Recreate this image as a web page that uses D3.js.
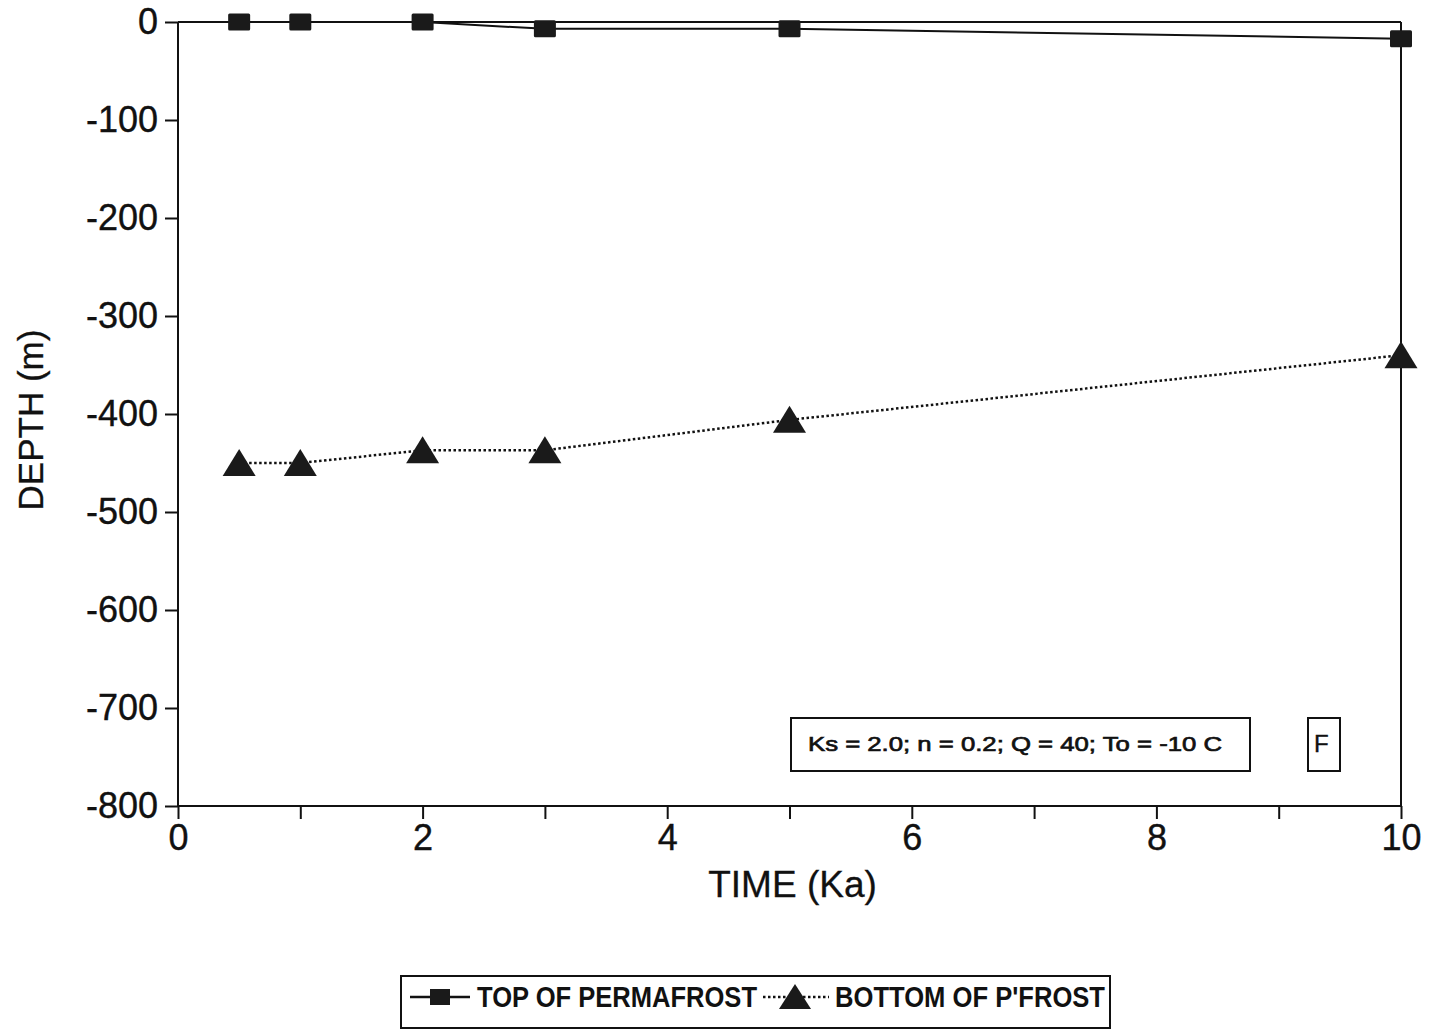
<!DOCTYPE html>
<html>
<head>
<meta charset="utf-8">
<script src="https://cdn.jsdelivr.net/npm/d3@7"></script>
<style>
  html, body { margin: 0; padding: 0; background: #fff; }
  svg { display: block; }
  text { fill: #111; }
</style>
</head>
<body>
<svg id="chart" width="1431" height="1030"></svg>
<script>
// Permafrost evolution through time
const timeKa = [0.5, 1, 2, 3, 5, 10];
const topOfPermafrost = [0, 0, 0, -7, -7, -17];
const bottomOfPermafrost = [-450, -450, -437, -437, -406, -340];
const xTicks = [0, 1, 2, 3, 4, 5, 6, 7, 8, 9, 10];
const xTickLabels = ["0", "", "2", "", "4", "", "6", "", "8", "", "10"];
const yTicks = [-800, -700, -600, -500, -400, -300, -200, -100, 0];
const seriesNames = ["TOP OF PERMAFROST", "BOTTOM OF P'FROST"];
const paramText = "Ks = 2.0; n = 0.2; Q = 40; To = -10 C";
const panelLabel = "F";

const svg = d3.select("#chart");
const font = "'Liberation Sans', Arial, Helvetica, sans-serif";
const ink = "#111";

const x = d3.scaleLinear().domain([0, 10]).range([178, 1401]);
const y = d3.scaleLinear().domain([-800, 0]).range([806, 22]);

// frame: top and right edges
svg.append("line").attr("x1", x(0)).attr("x2", x(10)).attr("y1", y(0)).attr("y2", y(0))
  .attr("stroke", ink).attr("stroke-width", 2);
svg.append("line").attr("x1", x(10)).attr("x2", x(10)).attr("y1", y(0)).attr("y2", y(-800))
  .attr("stroke", ink).attr("stroke-width", 2);

// y axis
const yAxis = svg.append("g").attr("transform", `translate(${x(0)},0)`)
  .call(d3.axisLeft(y).tickValues(yTicks).tickSize(13).tickPadding(7).tickFormat(d => String(d)));
yAxis.selectAll("path, line").attr("stroke", ink).attr("stroke-width", 2);
yAxis.select(".domain").attr("d", `M0,${y(-800)}V${y(0)}`);
yAxis.selectAll("text").attr("font-family", font).attr("font-size", 36).attr("fill", ink)
  .attr("stroke", ink).attr("stroke-width", 0.4);

// x axis
const xAxis = svg.append("g").attr("transform", `translate(0,${y(-800)})`)
  .call(d3.axisBottom(x).tickValues(xTicks).tickSize(13).tickPadding(5)
    .tickFormat((d, i) => xTickLabels[i]));
xAxis.selectAll("path, line").attr("stroke", ink).attr("stroke-width", 2);
xAxis.select(".domain").attr("d", `M${x(0)},0H${x(10)}`);
xAxis.selectAll("text").attr("font-family", font).attr("font-size", 36).attr("fill", ink)
  .attr("stroke", ink).attr("stroke-width", 0.4);

// axis titles
svg.append("text").attr("x", x(5) + 3).attr("y", 897).attr("text-anchor", "middle")
  .attr("font-family", font).attr("font-size", 37).attr("stroke", ink).attr("stroke-width", 0.3)
  .text("TIME (Ka)");
svg.append("text").attr("transform", `translate(43,420) rotate(-90)`).attr("text-anchor", "middle")
  .attr("font-family", font).attr("font-size", 35).attr("stroke", ink).attr("stroke-width", 0.3)
  .text("DEPTH (m)");

// series
const topPts = timeKa.map((t, i) => [t, topOfPermafrost[i]]);
const botPts = timeKa.map((t, i) => [t, bottomOfPermafrost[i]]);
const line = d3.line().x(d => x(d[0])).y(d => y(d[1]));

svg.append("path").attr("d", line(topPts)).attr("fill", "none")
  .attr("stroke", ink).attr("stroke-width", 2);
svg.append("path").attr("d", line(botPts)).attr("fill", "none")
  .attr("stroke", ink).attr("stroke-width", 2.5).attr("stroke-dasharray", "2.5,2.5");

const sqW = 22, sqH = 17;
const triPath = (w, h) => `M0,${-h * 0.52}L${w / 2},${h * 0.48}L${-w / 2},${h * 0.48}Z`;

svg.append("g").selectAll("rect").data(topPts).join("rect")
  .attr("x", d => x(d[0]) - sqW / 2).attr("y", d => y(d[1]) - sqH / 2)
  .attr("width", sqW).attr("height", sqH).attr("rx", 1.5).attr("fill", "#1a1a1a");
svg.append("g").selectAll("path").data(botPts).join("path")
  .attr("transform", d => `translate(${x(d[0])},${y(d[1])})`)
  .attr("d", triPath(33, 27)).attr("fill", "#1a1a1a");

// parameter box
svg.append("rect").attr("x", 791).attr("y", 718).attr("width", 459).attr("height", 53)
  .attr("fill", "none").attr("stroke", ink).attr("stroke-width", 2);
svg.append("text").attr("x", 808).attr("y", 751).attr("font-family", font)
  .attr("font-size", 21).attr("stroke", ink).attr("stroke-width", 0.7).attr("textLength", 414)
  .attr("lengthAdjust", "spacingAndGlyphs").text(paramText);
svg.append("rect").attr("x", 1308).attr("y", 718).attr("width", 32).attr("height", 53)
  .attr("fill", "none").attr("stroke", ink).attr("stroke-width", 2);
svg.append("text").attr("x", 1314).attr("y", 752).attr("font-family", font)
  .attr("font-size", 24).attr("stroke", ink).attr("stroke-width", 0.4).text(panelLabel);

// legend
const lg = svg.append("g");
lg.append("rect").attr("x", 401).attr("y", 976).attr("width", 709).attr("height", 52)
  .attr("fill", "none").attr("stroke", ink).attr("stroke-width", 2);
lg.append("line").attr("x1", 410).attr("x2", 470).attr("y1", 997).attr("y2", 997)
  .attr("stroke", ink).attr("stroke-width", 2.5);
lg.append("rect").attr("x", 440 - 10).attr("y", 997 - 8).attr("width", 20).attr("height", 16)
  .attr("fill", "#1a1a1a");
lg.append("text").attr("x", 477).attr("y", 1007).attr("font-family", "'Liberation Sans Narrow', " + font)
  .attr("font-size", 29).attr("font-weight", "bold").attr("textLength", 280)
  .attr("lengthAdjust", "spacingAndGlyphs").text(seriesNames[0]);
lg.append("line").attr("x1", 763).attr("x2", 829).attr("y1", 997).attr("y2", 997)
  .attr("stroke", ink).attr("stroke-width", 2.5).attr("stroke-dasharray", "2.5,2.5");
lg.append("path").attr("transform", "translate(795,997)").attr("d", triPath(32, 25))
  .attr("fill", "#1a1a1a");
lg.append("text").attr("x", 835).attr("y", 1007).attr("font-family", "'Liberation Sans Narrow', " + font)
  .attr("font-size", 29).attr("font-weight", "bold").attr("textLength", 270)
  .attr("lengthAdjust", "spacingAndGlyphs").text(seriesNames[1]);
</script>
</body>
</html>
